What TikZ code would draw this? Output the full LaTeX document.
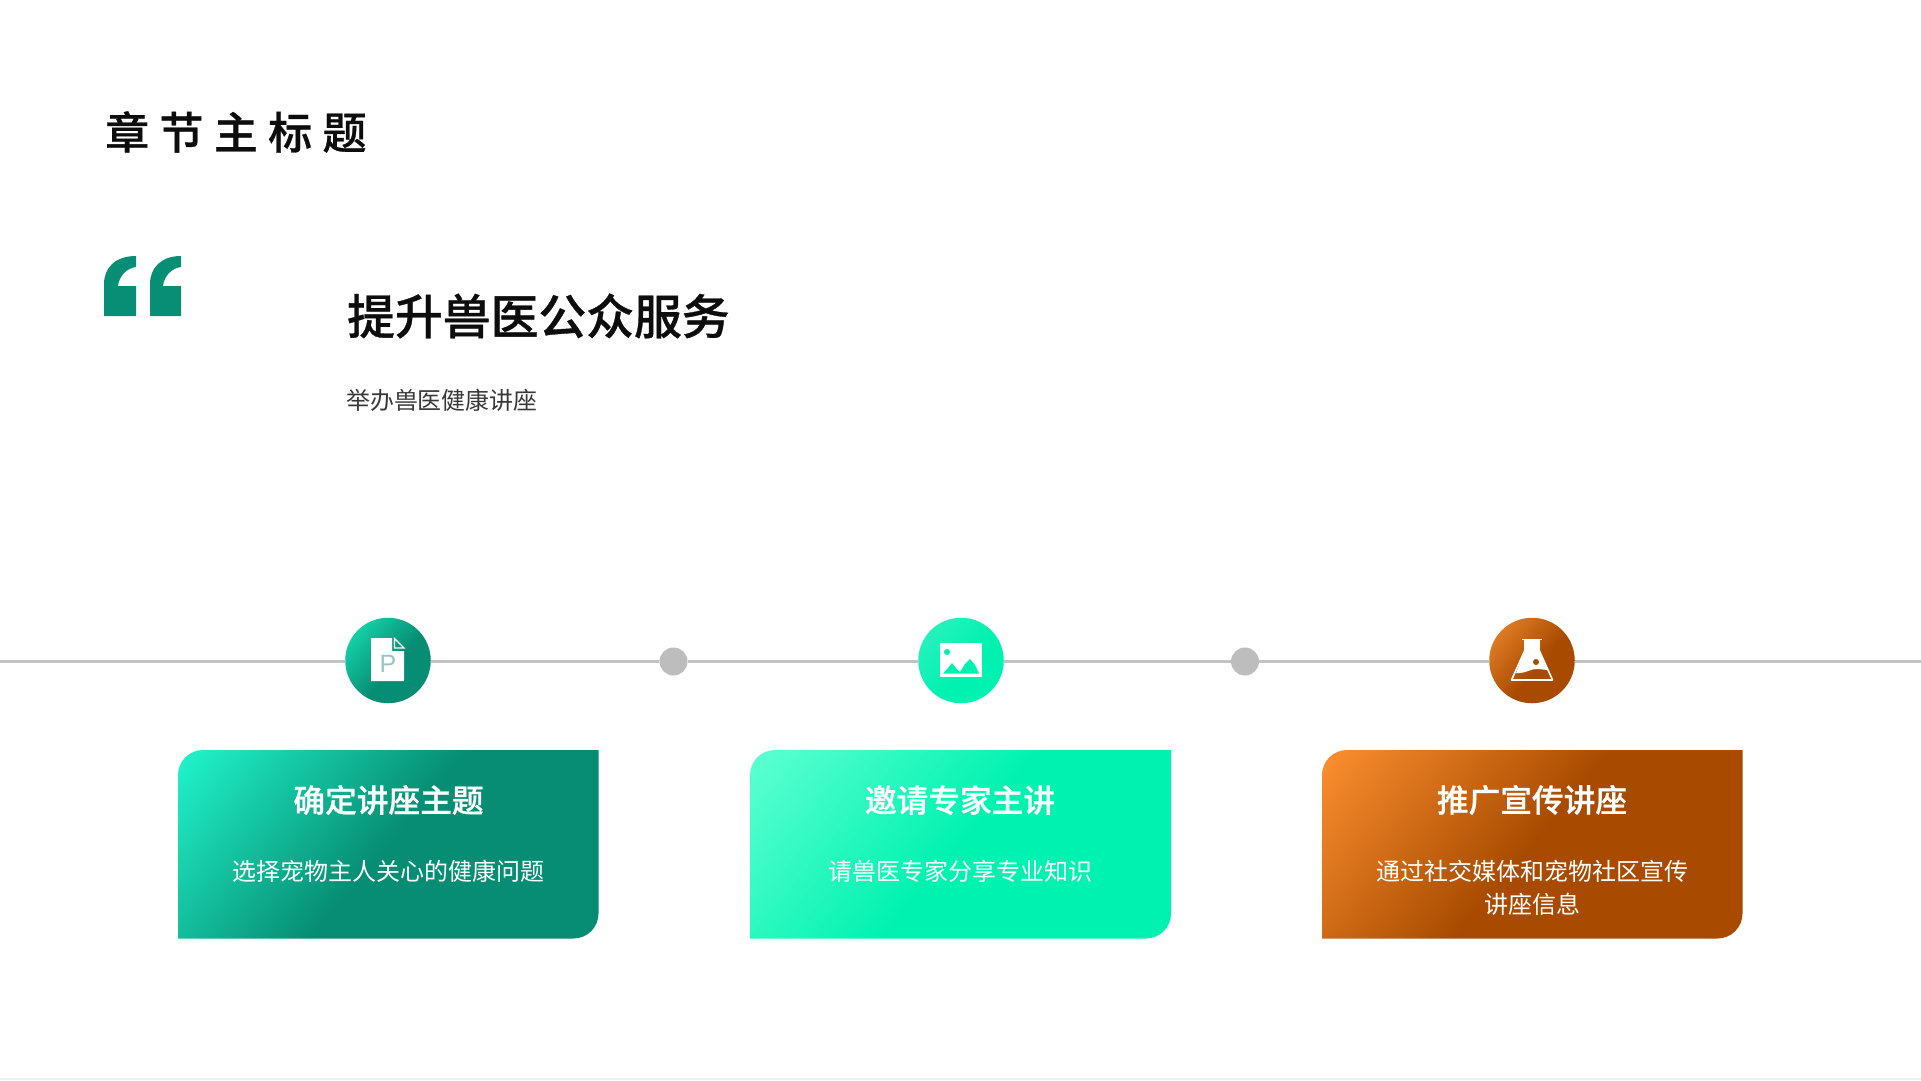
\documentclass[tikz,border=0pt]{standalone}
\usepackage{fontspec}
\setmainfont{Noto Sans CJK SC}[BoldFont={Noto Sans CJK SC Medium},BoldFeatures={FakeBold=0.7}]
\newfontfamily\titlefont[LetterSpace=23.5,BoldFont={Noto Sans CJK SC Medium},BoldFeatures={FakeBold=0.7}]{Noto Sans CJK SC}
\newfontfamily\latinfont{Liberation Sans}
\definecolor{cardAa}{HTML}{1FEFC6}\definecolor{cardAb}{HTML}{078D73}
\definecolor{cardBa}{HTML}{58FFD0}\definecolor{cardBb}{HTML}{00F2B0}
\definecolor{cardCa}{HTML}{F78B2D}\definecolor{cardCb}{HTML}{A84B00}
\definecolor{discAa}{HTML}{14CFA6}
\definecolor{discBa}{HTML}{24F2BC}
\definecolor{discCa}{HTML}{DE7A24}
\definecolor{quotegreen}{HTML}{088E75}
\definecolor{rail}{HTML}{C2C2C2}
\definecolor{dotgrey}{HTML}{BDBDBD}
\pgfdeclarehorizontalshading{cardA}{100bp}{color(0bp)=(cardAa); color(17bp)=(cardAa); color(50bp)=(cardAb); color(100bp)=(cardAb)}
\pgfdeclarehorizontalshading{cardB}{100bp}{color(0bp)=(cardBa); color(17bp)=(cardBa); color(50bp)=(cardBb); color(100bp)=(cardBb)}
\pgfdeclarehorizontalshading{cardC}{100bp}{color(0bp)=(cardCa); color(17bp)=(cardCa); color(50bp)=(cardCb); color(100bp)=(cardCb)}
\pgfdeclarehorizontalshading{discA}{100bp}{color(0bp)=(discAa); color(25bp)=(discAa); color(55bp)=(cardAb); color(100bp)=(cardAb)}
\pgfdeclarehorizontalshading{discB}{100bp}{color(0bp)=(discBa); color(25bp)=(discBa); color(55bp)=(cardBb); color(100bp)=(cardBb)}
\pgfdeclarehorizontalshading{discC}{100bp}{color(0bp)=(discCa); color(25bp)=(discCa); color(55bp)=(cardCb); color(100bp)=(cardCb)}
\newcommand{\cardshape}[4]{(#1,#4) [rounded corners=25pt] -- (#1,#2) [sharp corners] -- (#3,#2) [rounded corners=25pt] -- (#3,#4) [sharp corners] -- (#1,#4) -- cycle}
\newcommand{\quoteshape}[2]{(#1,316) -- (#1,284) .. controls (#1,268) and (#1+11,256) .. (#1+#2,256) -- (#1+#2,267) .. controls (#1+#2-9,268) and (#1+#2-17,276) .. (#1+#2-18,286) -- (#1+#2,286) -- (#1+#2,316) -- cycle}
\tikzset{
  disc/.style={circle,minimum size=85.5pt,inner sep=0pt,shading angle=-40},
  waypoint/.style={circle,fill=dotgrey,minimum size=28pt,inner sep=0pt},
  railline/.style={draw=rail,line width=3pt},
  cardtitle/.style={text=white,font=\fontsize{31.7}{38}\selectfont\bfseries,anchor=center},
  cardtext/.style={text=white,font=\fontsize{24}{33.5}\selectfont,anchor=center,align=center},
  iconwhite/.style={fill=white,draw=none},
}
\begin{document}
\begin{tikzpicture}[x=1pt,y=-1pt]
\useasboundingbox (0,0) rectangle (1921,1080);
\fill[white] (0,0) rectangle (1921,1080);
\fill[black!6] (0,1077.5) rectangle (1921,1080);
% headings
\node[anchor=west,inner sep=0pt,text=black!95,font=\fontsize{44}{50}\selectfont\titlefont\bfseries] (maintitle) at (105,132) {章节主标题};
\fill[quotegreen] \quoteshape{104}{32};
\fill[quotegreen] \quoteshape{150}{31};
\node[anchor=west,inner sep=0pt,text=black!95,font=\fontsize{47.8}{54}\selectfont\bfseries] (headline) at (347,316) {提升兽医公众服务};
\node[anchor=west,inner sep=0pt,text=black!78,font=\fontsize{23.9}{28}\selectfont] (subline) at (346,400) {举办兽医健康讲座};
% rail nodes
\coordinate (railL) at (0,661.5);
\coordinate (railR) at (1921,661.5);
\node[disc,shading=discA] (c1) at (388,660.5) {};
\node[disc,shading=discB] (c2) at (961,660.5) {};
\node[disc,shading=discC] (c3) at (1532,660.5) {};
\node[waypoint] (d1) at (673.5,661.5) {};
\node[waypoint] (d2) at (1245,661.5) {};
\draw[railline] (railL) -- (c1.west |- railL);
\draw[railline] (c1.east |- railL) -- (d1);
\draw[railline] (d1) -- (c2.west |- railL);
\draw[railline] (c2.east |- railL) -- (d2);
\draw[railline] (d2) -- (c3.west |- railL);
\draw[railline] (c3.east |- railL) -- (railR);
% document icon
\fill[iconwhite] (371,638) -- (392,638) -- (392,651) -- (404,651) -- (404,681) -- (371,681) -- cycle;
\draw[white,line width=1.2pt] (394.5,638.5) -- (404,648) -- (394.5,648) -- cycle;
\node[inner sep=0pt,text=black!20!teal!40,font=\fontsize{25}{25}\selectfont\latinfont] (picon) at (388,664) {P};
% picture icon
\fill[iconwhite] (940,643) rectangle (982,677);
\fill[cardBb] (943,673.5) -- (948,668) -- (952,663) -- (956,668) -- (960,672) -- (965,664) -- (970,659) -- (975,665) -- (979,673.5) -- cycle;
\fill[cardBb] (947,652) circle (3pt);
% flask icon
\draw[white,line width=1.8pt,line join=round] (1522,639.5) -- (1542,639.5);
\fill[iconwhite] (1525,640) -- (1539,640) -- (1539,650) -- (1548,670) -- (1538,669) .. controls (1532,668) and (1525,674) .. (1516,673) -- (1525,650) -- cycle;
\draw[white,line width=1.6pt,line join=round] (1525,640) -- (1525,650) -- (1511.5,680) -- (1552.5,680) -- (1539,650) -- (1539,640);
\fill[cardCb] (1536,662) circle (3pt);
% cards
\shade[shading=cardA,shading angle=-40] \cardshape{178}{750}{598.5}{938.5};
\shade[shading=cardB,shading angle=-40] \cardshape{750}{750}{1171}{938.5};
\shade[shading=cardC,shading angle=-40] \cardshape{1322}{750}{1742.5}{938.5};
\node[cardtitle] (t1) at (388.5,800) {确定讲座主题};
\node[cardtext] (s1) at (388.5,871) {选择宠物主人关心的健康问题};
\node[cardtitle] (t2) at (960,800) {邀请专家主讲};
\node[cardtext] (s2) at (960,871) {请兽医专家分享专业知识};
\node[cardtitle] (t3) at (1532,800) {推广宣传讲座};
\node[cardtext,anchor=north] (s3) at (1532,856.5) {通过社交媒体和宠物社区宣传\\讲座信息};
\end{tikzpicture}
\end{document}
